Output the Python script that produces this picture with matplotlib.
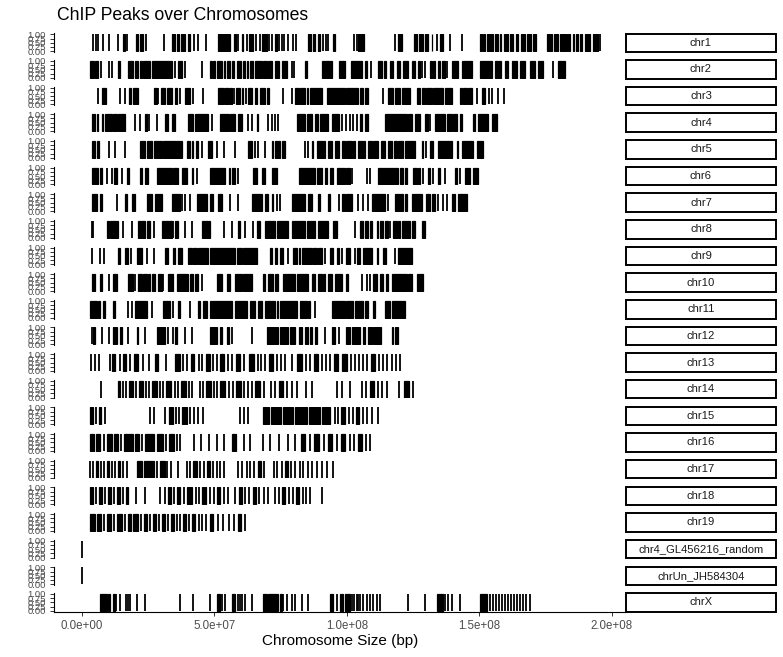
import matplotlib
matplotlib.use("Agg")
import matplotlib.pyplot as plt
from matplotlib.patches import Rectangle

plt.rcParams['font.family'] = ['Liberation Sans', 'DejaVu Sans']

# ---------------- data (peak positions in Mb; float = narrow peak, tuple = (start, end)) ----------------
chromosomes = ["chr1", "chr2", "chr3", "chr4", "chr5", "chr6", "chr7", "chr8", "chr9", "chr10",
               "chr11", "chr12", "chr13", "chr14", "chr15", "chr16", "chr17", "chr18", "chr19",
               "chr4_GL456216_random", "chrUn_JH584304", "chrX"]

chr1 = [4.3, 5.2, 6.0, 7.8, 10.0, 13.7, (15.6, 16.2), 17.1, (20.4, 21.0), (21.7, 23.2), 24.0, 31.1,
        (33.9, 35.1), (35.8, 36.6), (37.4, 38.9), (39.9, 40.8), 42.3, 43.9, 46.8, (51.2, 55.9), (57.3, 58.0),
        59.0, (60.3, 60.9), 62.2, (63.1, 64.7), 65.6, 67.0, (67.8, 69.7), 70.6, 71.6, (72.9, 73.5), 74.5,
        75.4, 76.4, 77.9, 79.8, 80.8, (85.4, 86.4), (87.1, 88.0), (88.9, 89.9), 90.8, 92.0, 93.0,
        (94.9, 95.5), 102.7, 103.6, (104.2, 106.5), 118.1, (119.3, 120.6), (125.4, 126.6), (127.1, 128.8),
        (129.4, 130.7), (131.9, 132.2), 133.8, (135.1, 136.3), 138.8, 143.3, (150.2, 151.0), (151.4, 152.0),
        (153.0, 155.2), (155.8, 157.1), (157.7, 158.3), (159.3, 160.8), (161.5, 162.7), (163.6, 164.6),
        (165.6, 167.1), (167.8, 169.6), (170.3, 171.5), (175.3, 177.2), (178.2, 179.7), (180.3, 182.9),
        (183.5, 184.1), (185.4, 185.8), (186.6, 187.3), (187.9, 188.8), (189.8, 191.7), (193.0, 194.8), 195.4]
chr2 = [(3.0, 4.7), (5.0, 5.9), 7.2, 10.0, 11.5, (13.5, 14.4), (17.5, 19.4), (20.0, 21.0), (21.9, 22.5),
        (23.2, 25.7), (26.3, 33.9), 35.1, (36.4, 37.9), 38.9, 45.2, (48.3, 49.2), (49.6, 50.2), (50.9, 52.7),
        (53.4, 54.0), (54.6, 55.9), (56.5, 57.5), (58.4, 60.0), (60.7, 61.6), (62.2, 62.8), (63.4, 64.7),
        (65.3, 67.8), (68.4, 69.7), (70.3, 71.6), (72.9, 74.4), (75.4, 77.3), 79.1, 80.1, (84.2, 84.8),
        (90.5, 94.2), (96.8, 99.2), (101.5, 105.5), (106.8, 107.4), 109.0, (111.8, 113.3), (114.0, 114.9),
        (116.2, 117.4), (118.7, 120.0), (121.2, 123.1), (124.4, 125.6), (126.9, 127.5), 128.4, 129.4,
        (131.3, 131.9), (132.5, 133.2), (134.2, 135.1), (135.7, 137.0), 137.6, (139.5, 142.0), (143.3, 147.0),
        (150.2, 154.6), (155.8, 158.3), (159.6, 160.8), (162.1, 164.0), (165.2, 167.1), (169.0, 170.9),
        (172.2, 174.1), 177.8, (179.7, 182.2)]
chr3 = [5.9, (7.4, 9.0), 14.4, 16.3, (17.8, 18.5), (19.4, 21.3), (27.3, 28.2), 28.8, (29.8, 31.3), (32.0, 33.9),
        (35.1, 35.7), 37.0, (38.9, 40.8), 42.0, 45.8, (51.2, 53.4), (54.0, 55.3), (55.9, 56.5), 57.2,
        (58.0, 59.7), (60.3, 60.9), 61.8, (62.8, 64.0), (65.3, 65.9), (67.2, 69.1), (69.7, 70.6), 76.0, 79.1,
        (80.4, 81.7), (82.3, 84.2), (84.8, 85.4), (86.0, 90.5), (92.4, 99.2), (99.8, 104.2), (104.9, 106.1),
        (106.8, 108.0), 113.7, (115.6, 117.4), (118.1, 120.0), (120.6, 123.7), (126.3, 127.5), (128.2, 129.4),
        (130.0, 131.9), (132.5, 136.3), (136.9, 139.5), (142.6, 143.3), (143.9, 145.2), (145.8, 147.0), 148.9,
        (150.8, 152.0), 153.5, 154.6, 157.1, 159.3]
chr4 = [(3.7, 4.9), (5.5, 6.2), (7.4, 8.1), (8.7, 11.2), (11.8, 13.1), (13.7, 16.3), 20.0, 21.9, (23.8, 24.4),
        25.3, 28.2, (31.3, 32.6), (33.9, 35.1), (40.1, 42.0), (42.7, 47.7), 49.0, (52.1, 55.3), (55.9, 57.8),
        (59.0, 60.3), 62.8, 64.0, (65.9, 66.6), 70.3, 71.6, 72.9, 74.1, (81.0, 84.2), (84.8, 86.7), (88.0, 89.0),
        (89.8, 93.0), (94.2, 96.8), 98.0, 99.8, 101.1, 102.3, 103.6, (104.9, 105.5), (106.8, 108.0),
        (114.3, 122.5), (123.1, 124.4), (125.6, 127.5), (129.4, 130.7), 131.3, (133.2, 137.0), (137.6, 139.5),
        (140.1, 141.4), (142.6, 143.3), (147.6, 148.3), (149.5, 153.3), (154.6, 156.5)]
chr5 = [(3.7, 4.9), (5.5, 6.4), 10.0, 12.5, 16.3, (21.9, 23.8), (24.4, 26.3), (27.0, 30.1), (30.7, 37.6),
        (39.5, 40.8), (41.4, 42.0), (42.9, 43.9), 45.2, (47.7, 49.0), 50.8, 53.4, 57.8, (62.8, 64.0), 65.3,
        66.6, 69.1, (71.6, 72.2), (72.9, 74.7), (75.4, 76.6), 84.2, 85.4, (86.7, 87.3), (88.6, 91.7),
        (93.0, 94.2), (95.5, 96.8), (98.0, 99.2), (99.8, 101.7), (102.3, 103.0), (104.2, 106.8), (108.0, 109.3),
        (109.9, 111.8), (113.0, 114.3), (115.3, 116.8), (117.8, 118.7), (119.3, 121.2), (121.8, 125.6),
        (128.2, 128.8), 130.0, (131.3, 132.5), (134.4, 139.5), (141.4, 142.0), (143.3, 147.6), (148.9, 151.4)]
chr6 = [(3.7, 6.2), (6.8, 7.4), 9.3, 11.2, (12.2, 13.1), 15.0, (16.9, 17.8), (21.9, 22.5), (23.8, 25.0),
        (28.2, 33.9), (34.5, 36.4), (37.6, 39.5), (41.4, 42.0), 43.3, (48.3, 54.0), (55.3, 55.9), (56.5, 57.8),
        59.0, (64.7, 65.9), (67.8, 69.1), (71.6, 73.5), (81.7, 88.0), (88.6, 90.5), (91.7, 92.4), (93.6, 94.9),
        (96.1, 99.2), (99.8, 101.1), 102.0, 107.4, 108.6, (111.8, 119.3), (120.0, 121.2), (121.8, 122.5),
        (125.0, 126.3), (126.9, 127.5), 128.8, (130.7, 131.3), 132.5, (134.4, 135.1), 137.0, (140.7, 141.4),
        142.6, (144.5, 146.4), (147.6, 149.5)]
chr7 = [(3.7, 5.5), (6.8, 7.4), 13.1, (16.3, 16.9), (18.7, 20.0), (24.4, 26.3), (27.6, 30.1), (34.1, 37.0), 37.6,
        38.9, 40.8, (43.3, 47.1), (48.3, 49.6), (51.4, 52.7), 55.9, 59.0, (64.0, 67.8), (69.1, 70.3),
        (71.6, 72.2), 73.5, 74.7, (79.1, 84.2), (85.4, 86.7), (89.2, 89.9), (93.0, 93.6), 96.8, (98.0, 99.2),
        (99.8, 101.7), 104.2, 106.1, 108.0, (109.3, 114.3), 115.6, (118.1, 121.2), (121.8, 122.5),
        (124.4, 128.2), (130.0, 131.3), (131.9, 133.2), 134.4, 136.3, 137.6, (139.5, 140.7), (142.0, 145.2)]
chr8 = [3.7, 4.3, (9.3, 10.0), (10.6, 13.7), 15.6, 18.7, (21.3, 23.8), (24.4, 25.7), 27.0, (30.1, 33.9), 34.5,
        (35.1, 36.4), 38.9, 41.4, (45.2, 48.3), 53.4, 56.5, (59.0, 59.7), 61.6, 64.7, (65.9, 67.2), (69.1, 73.0),
        (73.5, 77.9), (79.1, 84.2), (84.8, 88.0), (89.2, 93.0), (94.9, 96.1), 103.0, (104.9, 106.1),
        (106.8, 108.0), (108.6, 109.3), (111.2, 111.8), (112.4, 113.7), (114.3, 115.6), 116.2, (117.4, 118.7),
        (119.3, 120.0), (120.6, 123.7), (124.4, 125.6), (128.2, 129.4)]
chr9 = [3.7, 6.8, 8.4, (13.7, 14.4), (16.3, 17.5), 18.5, (20.7, 22.5), 24.4, 27.0, (31.3, 32.6), (34.5, 35.1),
        (36.4, 37.6), (40.1, 41.4), (42.0, 43.3), (43.9, 47.7), (48.3, 57.8), (58.4, 60.3), (60.9, 65.9),
        (71.0, 71.6), (72.9, 73.5), (74.7, 76.0), 77.9, (79.8, 81.0), (81.7, 82.3), (82.9, 86.7), (87.3, 88.6),
        (89.2, 90.5), 91.7, (93.6, 94.9), (96.1, 96.8), 98.0, (99.8, 101.1), 103.0, (103.6, 104.9),
        (106.1, 109.3), (111.2, 111.8), (113.7, 114.9), 118.1, (119.3, 124.4)]
chr10 = [(3.7, 4.9), (6.8, 7.4), 10.0, (11.8, 13.1), (17.5, 19.4), 20.0, (21.3, 22.5), (23.2, 24.4), (25.0, 25.7),
         (26.3, 27.6), (28.8, 30.1), 30.7, (32.6, 34.5), (35.7, 40.1), (40.8, 42.0), (42.7, 43.9), 45.2,
         (50.8, 52.7), (54.6, 55.9), (57.8, 60.3), (60.9, 64.0), (68.4, 69.1), (70.3, 72.2), (72.9, 74.1),
         (76.0, 80.4), (81.0, 85.4), (86.7, 88.0), (89.2, 90.5), (91.1, 91.7), (93.0, 94.2), (95.5, 98.0),
         (99.8, 100.5), 105.5, 107.4, 108.6, (109.9, 111.2), (112.4, 113.7), (114.9, 115.6), (116.8, 122.5),
         (123.1, 124.4), (126.3, 128.8)]
chr11 = [(3.0, 4.0), (4.3, 5.5), (6.0, 6.8), (8.1, 8.7), (11.8, 12.5), 17.5, 18.7, (20.0, 24.4), 26.3, (30.7, 33.2),
         34.5, (36.4, 37.0), 40.8, (43.9, 44.6), (45.8, 47.1), (48.3, 56.5), (57.8, 62.2), (63.4, 65.3),
         (66.6, 67.8), (69.1, 72.9), (73.5, 74.1), (74.7, 81.0), (82.3, 84.8), (85.4, 86.0), 88.0, (94.2, 99.2),
         (99.8, 102.3), (103.0, 106.1), (106.8, 108.0), (109.9, 110.5), (114.3, 116.2), (117.0, 121.8)]
chr12 = [3.7, (4.3, 4.9), 7.4, 10.0, (11.8, 13.1), (14.4, 15.0), 17.5, (20.7, 21.3), 23.8, (28.2, 31.3), 32.6, 34.5,
         (35.1, 35.7), 38.9, 41.4, (48.3, 50.8), (52.1, 52.7), (54.6, 55.3), 56.5, 64.0, (69.7, 74.1), (74.7, 77.9),
         (78.5, 80.4), (81.7, 82.9), (84.2, 85.4), (86.0, 86.7), (88.0, 88.6), 91.7, (94.2, 95.5), 96.8,
         (99.8, 101.1), (101.7, 104.9), (106.1, 106.8), (108.0, 109.3), (109.9, 113.0), (116.8, 117.4),
         (118.1, 119.3)]
chr13 = [3.4, 4.9, 6.4, 10.6, (11.3, 12.5), 14.3, (15.5, 16.6), 18.1, (19.6, 21.1), 23.0, 25.3, (27.5, 28.7), 31.7,
         (35.1, 37.0), 38.1, 39.6, (41.1, 42.3), 44.2, 45.3, (46.8, 48.3), 49.4, 50.9, (52.1, 53.6), 55.1, 56.6,
         (58.1, 59.6), 61.1, (63.0, 64.9), 66.4, 67.5, 69.1, (70.6, 72.1), 73.6, 75.1, 76.6, 79.2, (81.1, 83.0),
         84.5, 86.0, (87.5, 89.1), 90.6, 92.1, 93.6, (95.1, 96.6), (98.1, 100.0), 101.5, 103.0, 104.5, 106.0,
         107.5, (109.1, 110.6), 112.1, 113.6, 115.1, 117.0, 118.5, 120.0]
chr14 = [7.2, (13.6, 14.3), 15.5, 16.6, (17.7, 19.2), 20.4, (21.5, 23.0), 24.2, 25.3, (26.4, 28.3), 29.4, 30.6,
         (31.7, 33.6), 35.1, 36.2, (37.4, 39.2), 40.4, 41.5, 44.5, 45.7, (46.8, 48.7), 49.8, 51.0, (52.1, 54.0),
         55.5, 57.0, (58.1, 60.0), 61.1, 62.6, 64.2, (65.3, 67.2), 68.7, 71.3, 72.8, (74.3, 75.8), 77.4, 79.2,
         81.1, 84.5, 86.8, 96.2, 98.1, 101.1, 105.7, 107.2, (108.7, 110.2), 111.7, 113.2, 115.1, 119.6,
         (121.5, 123.4), 124.9]
chr15 = [(3.0, 4.2), 5.3, (6.4, 7.2), 8.7, 25.7, 27.2, 31.3, (32.8, 34.3), 35.5, 36.6, (37.8, 39.6), 40.8, 42.3,
         43.8, 45.7, 59.6, 61.1, 62.6, (68.3, 70.6), (71.3, 75.1), (75.8, 79.6), (80.4, 84.9), (85.7, 89.8),
         (90.6, 93.6), 95.5, 96.6, (97.7, 99.2), 100.8, 102.3, (103.4, 104.5), 106.0, 107.5, 109.4, 111.7]
chr16 = [(3.0, 4.5), (5.3, 6.8), 8.3, (9.4, 11.3), (12.1, 13.6), 14.7, (15.8, 19.2), (20.0, 21.5), 22.6,
         (23.8, 27.2), (28.3, 30.6), 31.7, (32.8, 34.7), 35.8, 37.0, 42.3, 44.9, 47.9, 50.9, 53.6, (56.6, 58.1),
         61.1, 63.4, 68.3, 70.9, 74.3, 77.7, 80.4, (82.6, 84.2), 86.0, (87.5, 89.4), 91.3, (92.8, 94.3), 96.2,
         (97.7, 99.2), 101.1, 102.6, (104.2, 105.7), 107.2, 108.7]
chr17 = [3.0, 4.2, (5.3, 6.0), 7.2, 8.3, (9.4, 10.2), 11.3, 12.5, (13.6, 14.3), 15.5, 17.0, (20.8, 22.6),
         (23.4, 27.2), 28.3, (29.4, 31.3), 32.1, 33.6, 36.2, 39.6, 40.8, (41.9, 43.4), 44.5, 46.0, (47.2, 48.3),
         49.4, 51.0, 52.1, 53.6, 58.9, 60.4, 62.2, 63.4, 64.9, (66.4, 67.5), 68.7, 72.5, 73.6, 75.5, (76.6, 77.7),
         78.9, 80.4, 82.3, 83.4, 85.3, 86.8, 88.7, 90.6, 92.5, 94.7]
chr18 = [(3.0, 4.2), 5.3, (6.4, 7.5), 8.7, (9.8, 10.9), 12.1, (13.2, 14.3), 15.5, (16.6, 17.4), 20.4, 23.8, 29.4,
         31.3, (32.5, 33.6), 34.7, (35.8, 37.0), 38.5, (39.6, 41.5), 43.0, 44.2, (45.3, 46.8), 48.3, 49.8,
         (50.9, 52.1), 53.6, 55.1, 57.7, (59.2, 60.4), 61.5, 63.0, (64.5, 65.7), 66.8, 68.7, 70.2, 72.8, 74.3,
         (75.5, 76.6), 78.1, 79.6, (80.8, 81.9), 83.4, 84.5, 86.0, 90.6]
chr19 = [(3.0, 4.9), (5.7, 7.2), 8.3, (9.4, 10.9), 12.1, (13.2, 15.1), 16.2, (17.4, 18.5), (19.2, 21.1), 22.3,
         (23.4, 24.5), 25.7, (26.8, 27.9), 29.1, (30.2, 31.3), 32.5, (33.6, 34.7), 35.8, 37.0, (38.1, 39.2), 40.4,
         (41.5, 42.6), 44.2, 45.3, 46.8, (48.3, 49.4), 51.3, 53.2, 55.5, 57.4, (58.9, 60.0), 61.5]
chr4_GL456216_random = [0.02]
chrUn_JH584304 = [0.03]
chrX = [(6.8, 9.4), (9.8, 10.6), (11.7, 12.5), 13.0, 14.3, 16.6, 17.4, 18.1, 20.8, 23.8, 37.0, 41.9, 48.3,
        (50.9, 52.1), 53.0, 53.9, (56.6, 57.7), 58.9, 59.6, 60.4, 61.5, 64.2, (68.3, 69.8), (70.2, 74.0),
        (74.7, 75.5), 76.0, 77.4, 79.2, 80.4, 83.0, 85.3, (93.6, 94.7), 96.2, (97.4, 98.5), (99.2, 101.1), 101.9,
        102.5, 103.8, 104.3, 104.9, 106.0, 107.5, 108.7, 109.8, 111.3, 112.5, 123.0, 129.4, (134.0, 136.2),
        137.0, 138.1, 139.6, 142.6, (150.2, 152.8), 154.0, 155.1, 156.2, 157.4, 158.5, 159.6, 160.8, 161.9,
        163.0, 164.2, 165.3, 166.4, 167.5, 169.1]

peaks_by_chrom = [chr1, chr2, chr3, chr4, chr5, chr6, chr7, chr8, chr9, chr10, chr11, chr12, chr13, chr14,
                  chr15, chr16, chr17, chr18, chr19, chr4_GL456216_random, chrUn_JH584304, chrX]

y_ticks = [0.0, 0.25, 0.50, 0.75, 1.00]
y_tick_labels = ["0.00", "0.25", "0.50", "0.75", "1.00"]
x_ticks = [0.0, 5.0e7, 1.0e8, 1.5e8, 2.0e8]
x_tick_labels = ["0.0e+00", "5.0e+07", "1.0e+08", "1.5e+08", "2.0e+08"]

title = "ChIP Peaks over Chromosomes"
x_label = "Chromosome Size (bp)"

# ---------------- layout ----------------
W, H = 783, 657
fig = plt.figure(figsize=(W / 100, H / 100), dpi=100)
fig.patch.set_facecolor("white")

panel_left, panel_right = 54, 626
strip_left, strip_right = 626, 776
first_top, step, ph = 33.5, 26.65, 18.5
xlim = ((54 - 82) / 2.65 * 1e6, (626 - 82) / 2.65 * 1e6)

n = len(chromosomes)
for i, (name, peaks) in enumerate(zip(chromosomes, peaks_by_chrom)):
    top = first_top + step * i
    y0 = 1 - (top + ph) / H
    ax = fig.add_axes([panel_left / W, y0, (panel_right - panel_left) / W, ph / H])
    ax.set_xlim(*xlim)
    ax.set_ylim(-0.05, 1.05)
    thin = [p * 1e6 for p in peaks if not isinstance(p, tuple)]
    wide = [p for p in peaks if isinstance(p, tuple)]
    if thin:
        ax.vlines(thin, 0, 1, color="black", linewidth=1.3)
    if wide:
        ax.bar([s * 1e6 for s, e in wide], [1] * len(wide), width=[(e - s) * 1e6 for s, e in wide],
               bottom=0, align="edge", color="black", edgecolor="black", linewidth=0.9)
    for s in ["top", "right"]:
        ax.spines[s].set_visible(False)
    ax.spines["left"].set_linewidth(0.8)
    ax.set_yticks(y_ticks)
    ax.set_yticklabels(y_tick_labels)
    ax.tick_params(axis="y", length=3.2, width=0.7, color="#333333", pad=2.5, labelsize=6.8,
                   labelcolor="#4D4D4D")
    if i == n - 1:
        ax.spines["bottom"].set_linewidth(0.8)
        ax.set_xticks(x_ticks)
        ax.set_xticklabels(x_tick_labels)
        ax.tick_params(axis="x", length=3.2, width=0.7, color="#333333", pad=2.5, labelsize=8.3,
                       labelcolor="#4D4D4D")
    else:
        ax.spines["bottom"].set_visible(False)
        ax.set_xticks([])
    ax.patch.set_alpha(0)

    # strip
    sax = fig.add_axes([strip_left / W, y0, (strip_right - strip_left) / W, ph / H])
    sax.set_xlim(0, 1)
    sax.set_ylim(0, 1)
    sax.axis("off")
    sax.add_patch(Rectangle((0, 0), 1, 1, transform=sax.transAxes, facecolor="white",
                            edgecolor="black", linewidth=1.4, clip_on=False))
    sax.text(0.5, 0.5, name, ha="center", va="center", fontsize=8.1, color="#1A1A1A")

fig.text(57 / W, 1 - 16 / H, title, ha="left", va="center", fontsize=12.7, color="black")
fig.text(((54 + 626) / 2) / W, 1 - 641 / H, x_label, ha="center", va="center", fontsize=11, color="black")

fig.savefig("out.png", dpi=100)
